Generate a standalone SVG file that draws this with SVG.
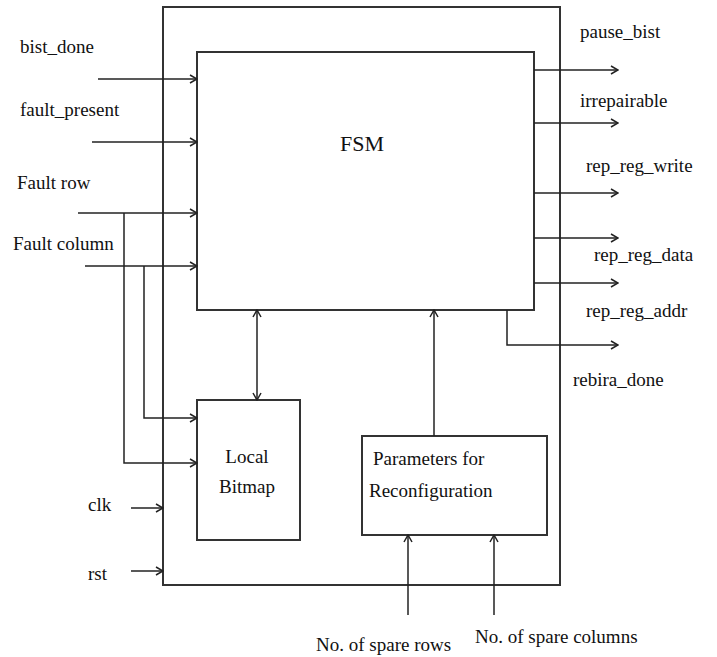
<svg xmlns="http://www.w3.org/2000/svg" width="717" height="657" viewBox="0 0 717 657">
<style>
text{font-size:19px;fill:#111}
.b{fill:none;stroke:#333;stroke-width:2}
.c{fill:none;stroke:#222;stroke-width:1.5}
</style>
<defs>
<marker id="ah" markerWidth="10" markerHeight="10" refX="9" refY="5" orient="auto-start-reverse" markerUnits="userSpaceOnUse">
<path d="M2,1 L9,5 L2,9" fill="none" stroke="#222" stroke-width="1.5"/>
</marker>
</defs>
<rect width="717" height="657" fill="#fff"/>
<g font-family="Liberation Serif, Times New Roman, serif">
<g id="outer"><rect class="b" x="163" y="7" width="397" height="578"/></g>
<g id="fsm"><rect class="b" x="197" y="52" width="337" height="258"/><text x="362" y="151" text-anchor="middle" style="font-size:22px">FSM</text></g>
<g id="bitmap"><rect class="b" x="197" y="400" width="103" height="140"/><text x="247" y="463" text-anchor="middle">Local</text><text x="247" y="493" text-anchor="middle">Bitmap</text></g>
<g id="params"><rect class="b" x="362" y="436" width="185" height="99"/><text x="373" y="465">Parameters for</text><text x="369" y="497">Reconfiguration</text></g>
<g id="connectors">
<line class="c" x1="98" y1="79" x2="197" y2="79" marker-end="url(#ah)"/>
<line class="c" x1="92" y1="142" x2="197" y2="142" marker-end="url(#ah)"/>
<line class="c" x1="78" y1="213" x2="197" y2="213" marker-end="url(#ah)"/>
<line class="c" x1="85" y1="266" x2="197" y2="266" marker-end="url(#ah)"/>
<polyline class="c" points="124,213 124,463 197,463" marker-end="url(#ah)"/>
<polyline class="c" points="144,266 144,418 197,418" marker-end="url(#ah)"/>
<line class="c" x1="257" y1="310" x2="257" y2="400" marker-start="url(#ah)" marker-end="url(#ah)"/>
<line class="c" x1="434" y1="436" x2="434" y2="310" marker-end="url(#ah)"/>
<line class="c" x1="408" y1="615" x2="408" y2="535" marker-end="url(#ah)"/>
<line class="c" x1="494" y1="615" x2="494" y2="535" marker-end="url(#ah)"/>
<line class="c" x1="131" y1="508" x2="163" y2="508" marker-end="url(#ah)"/>
<line class="c" x1="131" y1="571" x2="163" y2="571" marker-end="url(#ah)"/>
<line class="c" x1="534" y1="70" x2="618" y2="70" marker-end="url(#ah)"/>
<line class="c" x1="534" y1="123" x2="618" y2="123" marker-end="url(#ah)"/>
<line class="c" x1="534" y1="193" x2="618" y2="193" marker-end="url(#ah)"/>
<line class="c" x1="534" y1="238" x2="618" y2="238" marker-end="url(#ah)"/>
<line class="c" x1="534" y1="283" x2="618" y2="283" marker-end="url(#ah)"/>
<polyline class="c" points="507,310 507,345 618,345" marker-end="url(#ah)"/>
</g>
<g id="labels">
<text x="20" y="53">bist_done</text>
<text x="20" y="116">fault_present</text>
<text x="17" y="189">Fault row</text>
<text x="13" y="250">Fault column</text>
<text x="88" y="511">clk</text>
<text x="88" y="580">rst</text>
<text x="580" y="38">pause_bist</text>
<text x="580" y="107">irrepairable</text>
<text x="586" y="172">rep_reg_write</text>
<text x="594" y="261">rep_reg_data</text>
<text x="586" y="317">rep_reg_addr</text>
<text x="573" y="386">rebira_done</text>
<text x="316" y="651">No. of spare rows</text>
<text x="475" y="643">No. of spare columns</text>
</g>
</g>
</svg>
